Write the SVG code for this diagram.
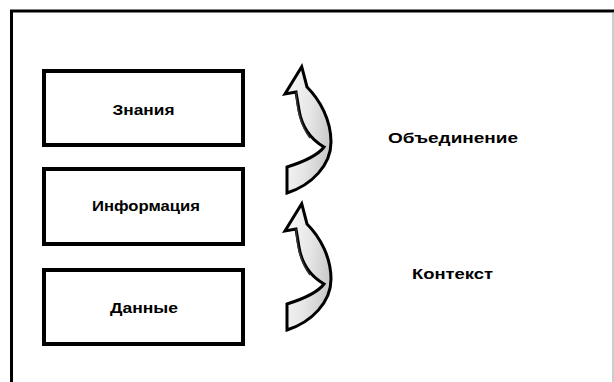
<svg xmlns="http://www.w3.org/2000/svg" width="614" height="382" viewBox="0 0 614 382">
  <style>
    .box { fill: #ffffff; stroke: #000000; stroke-width: 4; }
    .lbl { font-family: "Liberation Sans", Arial, sans-serif; font-weight: bold; font-size: 14px; fill: #000000; text-anchor: middle; }
    .arrow { fill: url(#ag); stroke: #000000; stroke-width: 3; stroke-linejoin: miter; }
    .fold { fill: none; stroke: #333333; stroke-width: 1.5; }
  </style>
  <defs>
    <linearGradient id="ag" x1="0" y1="0" x2="1" y2="0.3">
      <stop offset="0" stop-color="#fafafa"/>
      <stop offset="0.6" stop-color="#e6e6e6"/>
      <stop offset="1" stop-color="#cccccc"/>
    </linearGradient>
    <g id="curved">
      <path class="arrow" d="M 301.7,66.7 L 307,87 C 320,100 331,120 331,142 C 331,165 312,185 287,193 L 287,167 C 303,162 318,155 324,147 C 312,140 302,128 299,110 L 296,92 L 285,94 Z"/>
      <path class="fold" d="M 296,92 C 297,110 300,125 310,138"/>
    </g>
  </defs>

  <path d="M 11.5,382 V 11 H 614" fill="none" stroke="#000000" stroke-width="3"/>
  <line x1="613" y1="12" x2="613" y2="382" stroke="#9a9a9a" stroke-width="1"/>

  <g id="node-znaniya">
    <rect class="box" x="44" y="71" width="199" height="74"/>
    <text class="lbl" x="143.5" y="115" textLength="62" lengthAdjust="spacingAndGlyphs">Знания</text>
  </g>
  <g id="node-informatsiya">
    <rect class="box" x="44" y="169" width="199" height="75"/>
    <text class="lbl" x="146" y="211" textLength="108" lengthAdjust="spacingAndGlyphs">Информация</text>
  </g>
  <g id="node-dannye">
    <rect class="box" x="44" y="270" width="199" height="74"/>
    <text class="lbl" x="144" y="313" textLength="68" lengthAdjust="spacingAndGlyphs">Данные</text>
  </g>

  <g id="connectors">
    <use href="#curved"/>
    <use href="#curved" transform="translate(0,137)"/>
  </g>

  <g id="label-obedinenie">
    <text class="lbl" x="453" y="143" textLength="130" lengthAdjust="spacingAndGlyphs">Объединение</text>
  </g>
  <g id="label-kontekst">
    <text class="lbl" x="452.5" y="279" textLength="81" lengthAdjust="spacingAndGlyphs">Контекст</text>
  </g>
</svg>
